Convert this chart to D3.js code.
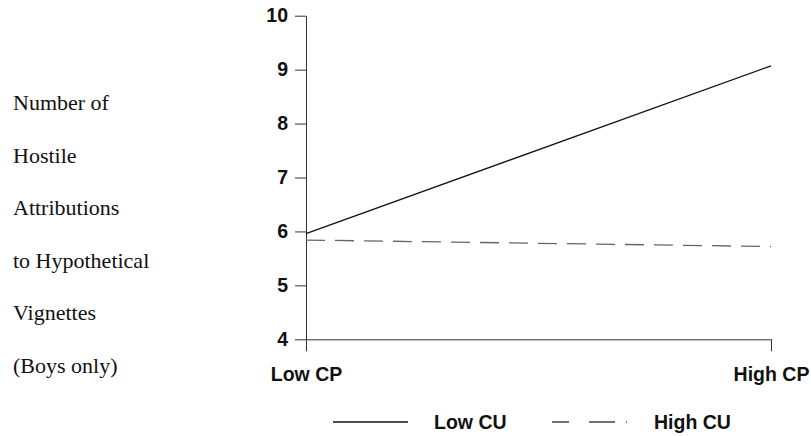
<!DOCTYPE html>
<html>
<head>
<meta charset="utf-8">
<script src="https://cdn.jsdelivr.net/npm/d3@7"></script>
<style>
  body { margin: 0; background: #fff; }
  .tick text, .lbl { font-family: "Liberation Sans", Arial, sans-serif; font-weight: bold; font-size: 19.5px; fill: #111; }
  .ytitle { font-family: "Liberation Serif", "Times New Roman", serif; font-size: 22px; fill: #111; }
</style>
</head>
<body>
<script>
// data
var categories = ["Low CP", "High CP"];
var lowCU = [5.96, 9.07];
var highCU = [5.84, 5.72];
var yTicks = [4, 5, 6, 7, 8, 9, 10];
var titleLines = ["Number of", "Hostile", "Attributions", "to Hypothetical", "Vignettes", "(Boys only)"];
var seriesNames = ["Low CU", "High CU"];

var W = 811, H = 436;
var svg = d3.select("body").append("svg")
    .attr("width", W)
    .attr("height", H);

// scales
var xScale = d3.scalePoint()
    .domain(categories)
    .range([306, 771]);

var yScale = d3.scaleLinear()
    .domain([4, 10])
    .range([339.3, 15.7]);

// y axis
svg.append("g")
    .attr("transform", "translate(" + xScale("Low CP") + ",0)")
    .call(d3.axisLeft(yScale).tickValues(yTicks).tickFormat(d3.format("d"))
        .tickSize(11).tickSizeOuter(0).tickPadding(7));

// x axis along value 4
svg.append("g")
    .attr("transform", "translate(0," + yScale(4) + ")")
    .call(d3.axisBottom(xScale).tickSize(12).tickSizeOuter(0).tickPadding(16));

svg.selectAll(".domain, .tick line")
    .attr("stroke", "#333")
    .attr("stroke-width", 1);
svg.selectAll(".tick text").attr("fill", "#111");

// the lines
var line = d3.line()
    .x(function (d, i) { return xScale(categories[i]); })
    .y(function (d) { return yScale(d); });

svg.append("path")
    .datum(lowCU)
    .attr("d", line)
    .attr("fill", "none")
    .attr("stroke", "#111")
    .attr("stroke-width", 1.3);

svg.append("path")
    .datum(highCU)
    .attr("d", line)
    .attr("fill", "none")
    .attr("stroke", "#666")
    .attr("stroke-width", 1.3)
    .style("stroke-dasharray", "19,10");

// y title on the left, one line each
svg.selectAll(".ytitle")
    .data(titleLines)
    .enter().append("text")
    .attr("class", "ytitle")
    .attr("x", 13)
    .attr("y", function (d, i) { return 110 + i * 52.6; })
    .text(function (d) { return d; });

// legend
var leg = svg.append("g");
leg.append("line")
    .attr("x1", 333).attr("x2", 408)
    .attr("y1", 422).attr("y2", 422)
    .attr("stroke", "#111").attr("stroke-width", 1.3);
leg.append("text").attr("class", "lbl")
    .attr("x", 434).attr("y", 429)
    .text(seriesNames[0]);
leg.append("line")
    .attr("x1", 552).attr("x2", 628)
    .attr("y1", 422).attr("y2", 422)
    .attr("stroke", "#444").attr("stroke-width", 1.3)
    .style("stroke-dasharray", "17,20,26,11,1,10");
leg.append("text").attr("class", "lbl")
    .attr("x", 654).attr("y", 429)
    .text(seriesNames[1]);
</script>
</body>
</html>
